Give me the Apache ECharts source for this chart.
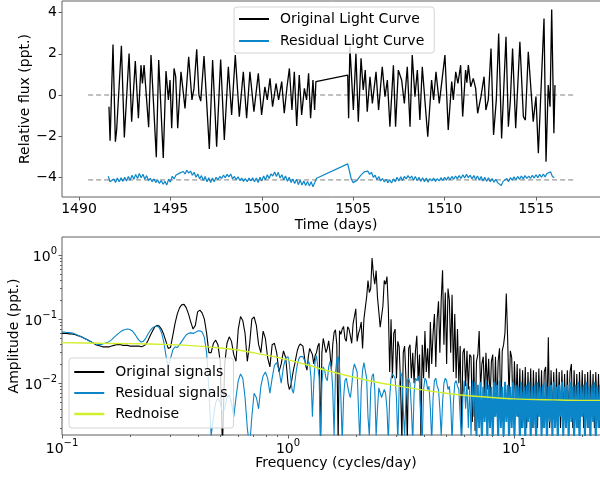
<!DOCTYPE html>
<html>
<head>
<meta charset="utf-8">
<script src="https://cdn.jsdelivr.net/npm/echarts@6/dist/echarts.min.js"></script>
<style>
html, body { margin: 0; padding: 0; background: #fff; }
#main { width: 600px; height: 479px; }
</style>
</head>
<body>
<div id="main"></div>
<script>
var myChart = echarts.init(document.getElementById('main'));

// ---- top panel: light curve (days, ppt) ----
var lcDays = [
  1491.64, 1491.70, 1491.86, 1491.99, 1492.06, 1492.32, 1492.48, 1492.74, 1492.88, 1493.08,
  1493.25, 1493.39, 1493.47, 1493.56, 1493.81, 1493.94, 1494.23, 1494.36, 1494.61, 1494.76,
  1494.89, 1494.98, 1495.07, 1495.20, 1495.29, 1495.40, 1495.58, 1495.80, 1496.00, 1496.18,
  1496.29, 1496.44, 1496.56, 1496.66, 1496.84, 1497.13, 1497.31, 1497.53, 1497.75, 1497.95,
  1498.17, 1498.35, 1498.55, 1498.77, 1498.99, 1499.17, 1499.35, 1499.57, 1499.81, 1499.99,
  1500.17, 1500.30, 1500.45, 1500.59, 1500.78, 1500.92, 1501.09, 1501.23, 1501.38, 1501.51,
  1501.65, 1501.78, 1501.91, 1502.05, 1502.18, 1502.33, 1502.45, 1502.56, 1502.67, 1502.80,
  1502.89, 1502.96,
  1504.70, 1504.75, 1504.82, 1505.01, 1505.15, 1505.28, 1505.43, 1505.55, 1505.66, 1505.77,
  1505.92, 1506.05, 1506.25, 1506.39, 1506.59, 1506.74, 1506.87, 1507.01, 1507.20, 1507.32,
  1507.47, 1507.65, 1507.80, 1507.96, 1508.11, 1508.23, 1508.38, 1508.51, 1508.65, 1508.78,
  1509.08, 1509.29, 1509.40, 1509.53, 1509.71, 1510.02, 1510.20, 1510.39, 1510.48, 1510.61,
  1510.73, 1510.88, 1510.99, 1511.15, 1511.22, 1511.30, 1511.43, 1511.57, 1511.70, 1511.81,
  1511.99, 1512.16, 1512.26, 1512.39, 1512.54, 1512.68, 1512.83, 1512.96, 1513.12, 1513.36,
  1513.49, 1513.60, 1513.72, 1513.89, 1514.12, 1514.31, 1514.42, 1514.58, 1514.85, 1515.00,
  1515.13, 1515.44, 1515.55, 1515.67, 1515.77, 1515.86, 1515.98, 1516.04
];
var lcFlux = [
  -0.57, -2.22, 2.46, -2.27, -1.70, 2.39, -2.06, 2.02, -1.30, 1.65,
  -1.13, 1.45, 0.56, 1.45, -1.57, 1.94, -3.03, 1.70, -3.06, 1.16,
  -0.24, 0.73, -1.62, 1.29, 0.89, -1.62, 1.13, -0.65, 1.86, -0.24,
  0.32, 2.22, 0.00, -0.30, 1.89, -2.62, 1.70, -2.51, 1.73, -2.19,
  1.37, -0.97, 1.94, -1.05, 1.13, -1.13, 1.13, -0.81, 1.05, -0.97,
  0.40, -0.24, 0.81, -0.57, 0.56, -0.24, 0.65, -0.89, 0.40, 1.29,
  -0.73, 1.13, -1.51, 0.97, -0.97, 0.32, -0.24, 1.05, -1.13, 0.73,
  -0.73, 0.65,
  0.97, -1.13, 2.34, -0.73, 2.02, -1.30, 1.78, 0.24, 1.21, -0.81,
  0.89, -0.41, 1.13, -0.73, 1.37, -0.08, 0.73, -1.54, 1.45, -1.54,
  1.21, 0.73, -0.41, 1.37, -1.54, 1.94, -0.08, 1.21, -1.22, 1.37,
  -2.03, 0.73, -0.24, 1.13, -0.41, 1.94, -1.70, 0.65, -0.24, 1.13,
  0.56, 1.45, -1.05, 1.21, 0.60, 1.45, 0.40, 0.81, 0.32, -0.89,
  -0.08, 0.89, -0.73, -0.24, 2.26, -1.94, -0.24, 2.99, -2.11, 2.83,
  -1.54, -0.24, 2.26, -1.62, 2.59, -1.05, -1.22, 2.10, -1.30, -0.08,
  -2.83, 3.72, -3.24, 0.48, -0.57, 4.16, -1.86, 0.48
];

// residual light curve, sampled every 0.1 d in two sectors
var resStep = 0.1;
var resStart1 = 1491.6;
var resFlux1 = [
  -3.95, -4.22, -4.30, -4.08, -4.26, -4.04, -4.22, -4.02, -4.20, -4.00,
  -4.18, -3.96, -4.14, -3.90, -4.10, -3.86, -4.06, -3.82, -4.02, -3.85,
  -4.10, -3.92, -4.16, -4.05, -4.22, -4.08, -4.26, -4.12, -4.30, -4.16,
  -4.34, -4.20, -4.38, -4.10, -4.24, -3.95, -4.08, -3.90, -3.98, -3.80,
  -3.88, -3.72, -3.84, -3.66, -3.80, -3.70, -3.90, -3.76, -4.00, -3.84,
  -4.08, -3.92, -4.16, -3.96, -4.22, -4.02, -4.26, -4.04, -4.22, -4.00,
  -4.12, -3.96, -4.06, -3.90, -4.02, -3.86, -3.98, -3.84, -4.08, -3.96,
  -4.12, -3.98, -4.16, -4.04, -4.20, -4.06, -4.22, -4.04, -4.18, -4.02,
  -4.22, -4.04, -4.26, -4.00, -4.18, -3.94, -4.12, -3.88, -4.06, -3.84,
  -3.94, -3.74, -3.96, -3.76, -4.04, -3.88, -4.12, -3.94, -4.20, -4.00,
  -4.26, -4.08, -4.30, -4.10, -4.36, -4.14, -4.38, -4.18, -4.40, -4.20,
  -4.42, -4.22, -4.46, -4.26, -4.05
];
var resStart2 = 1504.7;
var resFlux2 = [
  -3.35, -3.72, -4.10, -4.26, -4.34, -4.16, -4.20, -3.92, -3.96, -3.74,
  -3.80, -3.70, -3.86, -3.76, -4.00, -3.90, -4.12, -3.96, -4.18, -4.06,
  -4.22, -4.10, -4.26, -4.12, -4.28, -4.08, -4.22, -4.00, -4.18, -3.98,
  -4.16, -3.96, -4.08, -3.92, -4.06, -3.94, -4.14, -3.96, -4.16, -4.00,
  -4.20, -4.02, -4.22, -4.04, -4.24, -4.06, -4.18, -4.04, -4.20, -4.06,
  -4.18, -4.02, -4.16, -4.00, -4.14, -3.98, -4.12, -3.96, -4.10, -3.94,
  -4.08, -3.92, -4.06, -3.88, -4.04, -3.86, -4.02, -3.90, -4.08, -3.92,
  -4.10, -3.94, -4.14, -3.96, -4.18, -4.00, -4.20, -4.02, -4.22, -4.06,
  -4.24, -4.10, -4.26, -4.18, -4.40, -4.20, -4.26, -4.06, -4.22, -4.02,
  -4.14, -3.98, -4.12, -3.96, -4.10, -3.94, -4.08, -3.92, -4.06, -3.94,
  -4.06, -3.90, -4.04, -3.88, -4.02, -3.86, -4.00, -3.84, -3.98, -3.82,
  -3.90, -3.74, -3.96, -4.02
];

// dashed reference levels and their time span
var refLevels = [0, -4.13];
var refSpan = [1490.5, 1517.2];

// ---- bottom panel: amplitude spectra (cycles/day, ppt) ----
// low part: log10(f) from -1 to 0, step 0.01
var lowLogStart = -1, lowLogStep = 0.01;
var origLow = [
  0.060, 0.060, 0.060, 0.059, 0.059, 0.058, 0.057, 0.055, 0.054, 0.052,
  0.050, 0.048, 0.046, 0.044, 0.042, 0.040, 0.039, 0.038, 0.037, 0.037,
  0.037, 0.037, 0.038, 0.039, 0.040, 0.040, 0.040, 0.039, 0.039, 0.039,
  0.038, 0.038, 0.038, 0.038, 0.038, 0.037, 0.038, 0.040, 0.046, 0.055,
  0.065, 0.075, 0.080, 0.078, 0.070, 0.058, 0.045, 0.035, 0.036, 0.055,
  0.085, 0.120, 0.150, 0.168, 0.170, 0.150, 0.120, 0.090, 0.070, 0.080,
  0.130, 0.138, 0.125, 0.100, 0.060, 0.030, 0.030, 0.042, 0.047, 0.040,
  0.022, 0.001, 0.020, 0.042, 0.053, 0.045, 0.028, 0.022, 0.070, 0.110,
  0.095, 0.060, 0.022, 0.040, 0.100, 0.108, 0.080, 0.040, 0.030, 0.065,
  0.050, 0.025, 0.018, 0.040, 0.042, 0.030, 0.015, 0.020, 0.032, 0.025,
  0.010
];
var resLow = [
  0.063, 0.063, 0.062, 0.062, 0.061, 0.060, 0.058, 0.056, 0.054, 0.052,
  0.050, 0.048, 0.046, 0.044, 0.042, 0.041, 0.040, 0.040, 0.041, 0.042,
  0.043, 0.045, 0.048, 0.052, 0.056, 0.060, 0.064, 0.067, 0.069, 0.070,
  0.069, 0.066, 0.060, 0.053, 0.047, 0.044, 0.045, 0.050, 0.058, 0.066,
  0.073, 0.077, 0.078, 0.074, 0.062, 0.045, 0.027, 0.018, 0.024, 0.033,
  0.037, 0.036, 0.040, 0.045, 0.051, 0.057, 0.060, 0.061, 0.060, 0.062,
  0.065, 0.066, 0.063, 0.052, 0.030, 0.008, 0.0015, 0.003, 0.005, 0.0058,
  0.005, 0.0035, 0.004, 0.006, 0.0065, 0.005, 0.003, 0.006, 0.011, 0.014,
  0.012, 0.006, 0.002, 0.001, 0.003, 0.007, 0.006, 0.004, 0.009, 0.013,
  0.015, 0.012, 0.007, 0.012, 0.019, 0.021, 0.016, 0.010, 0.018, 0.025,
  0.026
];
// high part: log10(f) from 0 upward, step 0.006
var highLogStart = 0, highLogStep = 0.006;
var origHigh = [
  0.009, 0.008, 0.009, 0.012, 0.016, 0.020, 0.026, 0.033, 0.038, 0.041,
  0.042, 0.038, 0.027, 0.019, 0.016, 0.026, 0.035, 0.036, 0.028, 0.020,
  0.027, 0.030, 0.038, 0.042, 0.0012, 0.030, 0.050, 0.048, 0.030, 0.035,
  0.046, 0.030, 0.016, 0.040, 0.062, 0.068, 0.040, 0.0012, 0.066, 0.058,
  0.070, 0.077, 0.050, 0.045, 0.076, 0.070, 0.055, 0.042, 0.085, 0.110,
  0.145, 0.045, 0.060, 0.070, 0.090, 0.035, 0.100, 0.150, 0.220, 0.400,
  0.260, 0.300, 0.900, 0.500, 0.350, 0.570, 0.220, 0.130, 0.075, 0.110,
  0.160, 0.400, 0.350, 0.460, 0.150, 0.015, 0.100, 0.012, 0.060, 0.070,
  0.012, 0.045, 0.037, 0.010, 0.0012, 0.030, 0.038, 0.012, 0.0012, 0.035,
  0.040, 0.012, 0.030, 0.010, 0.032, 0.055, 0.011, 0.028, 0.0015, 0.040,
  0.012, 0.065, 0.015, 0.035, 0.012, 0.090, 0.020, 0.060, 0.120, 0.018,
  0.100, 0.190, 0.030, 0.200, 0.580, 0.040, 0.260, 0.020, 0.300, 0.200,
  0.030, 0.240, 0.015, 0.120, 0.012, 0.070, 0.010, 0.038, 0.0015, 0.030,
  0.035, 0.009, 0.032, 0.008, 0.028, 0.026, 0.0025, 0.028, 0.0018, 0.022,
  0.028, 0.065, 0.008, 0.020, 0.026, 0.006, 0.030, 0.008, 0.024, 0.005,
  0.022, 0.028, 0.003, 0.026, 0.004, 0.022, 0.035, 0.003, 0.032, 0.040,
  0.060, 0.250, 0.050, 0.006, 0.032, 0.025, 0.003, 0.022, 0.004, 0.020,
  0.003, 0.017, 0.002, 0.016, 0.003, 0.018, 0.002, 0.015, 0.003, 0.017,
  0.002, 0.016, 0.003, 0.015, 0.002, 0.017, 0.003, 0.016, 0.002, 0.015,
  0.018, 0.003, 0.052, 0.002, 0.016, 0.003, 0.015, 0.002, 0.017, 0.003,
  0.015, 0.002, 0.016, 0.003, 0.014, 0.002, 0.016, 0.003, 0.015, 0.020,
  0.002, 0.016, 0.003, 0.014, 0.002, 0.015, 0.003, 0.016, 0.002, 0.014,
  0.003, 0.015, 0.002, 0.016, 0.003, 0.014, 0.002, 0.015, 0.003, 0.014,
  0.002, 0.015, 0.003, 0.014, 0.002, 0.015, 0.003
];
var resHigh = [
  0.026, 0.020, 0.012, 0.008, 0.007, 0.010, 0.015, 0.020, 0.024, 0.026,
  0.025, 0.026, 0.025, 0.021, 0.018, 0.022, 0.020, 0.012, 0.003, 0.010,
  0.022, 0.027, 0.026, 0.012, 0.0012, 0.010, 0.018, 0.016, 0.012, 0.011,
  0.018, 0.022, 0.018, 0.008, 0.0015, 0.014, 0.024, 0.026, 0.018, 0.006,
  0.0012, 0.006, 0.011, 0.012, 0.009, 0.007, 0.006, 0.009, 0.016, 0.020,
  0.021, 0.015, 0.004, 0.0012, 0.008, 0.016, 0.021, 0.021, 0.012, 0.003,
  0.0015, 0.008, 0.013, 0.014, 0.008, 0.0015, 0.004, 0.0085, 0.008, 0.006,
  0.006, 0.008, 0.007, 0.004, 0.0012, 0.006, 0.012, 0.014, 0.013, 0.012,
  0.006, 0.0012, 0.009, 0.015, 0.013, 0.004, 0.0015, 0.006, 0.011, 0.012,
  0.010, 0.004, 0.0012, 0.007, 0.012, 0.011, 0.013, 0.010, 0.003, 0.0012,
  0.008, 0.012, 0.011, 0.008, 0.009, 0.004, 0.0012, 0.006, 0.011, 0.012,
  0.009, 0.008, 0.004, 0.0015, 0.005, 0.010, 0.012, 0.011, 0.008, 0.009,
  0.005, 0.0012, 0.005, 0.010, 0.011, 0.009, 0.008, 0.003, 0.0012, 0.006,
  0.011, 0.004, 0.010, 0.002, 0.009, 0.0015, 0.011, 0.003, 0.0105, 0.0014,
  0.0095, 0.002, 0.0105, 0.0012, 0.0088, 0.0025, 0.011, 0.0013, 0.0095, 0.002,
  0.0088, 0.0012, 0.0105, 0.003, 0.0095, 0.0014, 0.011, 0.002, 0.0088, 0.0012,
  0.0105, 0.0025, 0.0095, 0.0013, 0.0088, 0.002, 0.0105, 0.0012, 0.0095, 0.003,
  0.0088, 0.0013, 0.0105, 0.002, 0.0088, 0.0012, 0.0095, 0.0025, 0.0105, 0.0013,
  0.0088, 0.002, 0.0095, 0.0012, 0.0105, 0.003, 0.0088, 0.0014, 0.0095, 0.002,
  0.0105, 0.0012, 0.0088, 0.0025, 0.0095, 0.0013, 0.0105, 0.002, 0.0088, 0.0012,
  0.0095, 0.003, 0.0105, 0.0014, 0.0088, 0.002, 0.0095, 0.0012, 0.0105, 0.0025,
  0.0088, 0.0013, 0.0095, 0.002, 0.0105, 0.0012, 0.0088, 0.003, 0.0095, 0.0014,
  0.0105, 0.002, 0.0088, 0.0012, 0.0095, 0.0025, 0.0105, 0.0013, 0.0088, 0.002,
  0.0095, 0.0012, 0.0105, 0.003, 0.0088, 0.0014, 0.0095
];
// residual spectrum turns into a dense forest from this high-grid index on
var resDenseFrom = 138;
// red-noise fit
var redFreq = [0.1, 0.15, 0.2, 0.3, 0.4, 0.5, 0.6, 0.7, 0.8, 1.0, 1.2, 1.5, 2.0, 2.5, 3.0, 4.0, 5.0, 6.0, 8.0, 10, 15, 20, 27];
var redAmp = [0.043, 0.042, 0.0415, 0.040, 0.038, 0.0355, 0.033, 0.030, 0.0275, 0.0232, 0.0196, 0.0157, 0.0122, 0.0103, 0.0092, 0.0078, 0.0070, 0.0065, 0.0060, 0.0057, 0.0055, 0.0054, 0.0054];

// tick positions
var timeTicks = [1490, 1495, 1500, 1505, 1510, 1515];
var fluxTicks = [-4, -2, 0, 2, 4];
var freqTicks = [0.1, 1, 10];
var ampTicks = [0.01, 0.1, 1];
var freqMinor = [0.2, 0.3, 0.4, 0.5, 0.6, 0.7, 0.8, 0.9, 2, 3, 4, 5, 6, 7, 8, 9, 20];
var ampMinor = [0.002, 0.003, 0.004, 0.005, 0.006, 0.007, 0.008, 0.009,
                0.02, 0.03, 0.04, 0.05, 0.06, 0.07, 0.08, 0.09,
                0.2, 0.3, 0.4, 0.5, 0.6, 0.7, 0.8, 0.9];

var FONT = "'DejaVu Sans', sans-serif";
var BLUE = '#0a86c9';
var YELLOW = '#d2ee2c';
var FRAME = '#606060';

function pairs(xs, ys) {
    var out = [];
    for (var i = 0; i < xs.length; i++) out.push([xs[i], ys[i]]);
    return out;
}
function cadence(start, step, vals) {
    var out = [];
    for (var i = 0; i < vals.length; i++) out.push([+(start + i * step).toFixed(3), vals[i]]);
    return out;
}
function logGrid(start, step, vals) {
    var out = [];
    for (var i = 0; i < vals.length; i++) out.push([Math.pow(10, start + i * step), vals[i]]);
    return out;
}

var resData = cadence(resStart1, resStep, resFlux1).concat(cadence(resStart2, resStep, resFlux2));
var origSpec = logGrid(lowLogStart, lowLogStep, origLow).concat(logGrid(highLogStart, highLogStep, origHigh).slice(1));
var resHighPts = logGrid(highLogStart, highLogStep, resHigh);
var resSpecA = logGrid(lowLogStart, lowLogStep, resLow).concat(resHighPts.slice(1, resDenseFrom + 1));
var resSpecB = resHighPts.slice(resDenseFrom);

function minusFmt(v) { return v < 0 ? '\u2212' + (-v) : String(v); }
function plainFmt(v) { return String(v); }
function powFmt(v) {
    var e = Math.round(Math.log(v) / Math.LN10);
    return '{b|10}{sup|' + (e < 0 ? '\u2212' + (-e) : e) + '}';
}
var powRich = {
    b: { fontSize: 14, fontFamily: FONT, color: '#000', lineHeight: 18, verticalAlign: 'bottom' },
    sup: { fontSize: 10, fontFamily: FONT, color: '#000', lineHeight: 8, verticalAlign: 'top' }
};
var nameStyle = { fontSize: 14, fontFamily: FONT, color: '#000' };
// axis lines are hidden (the grid frame draws them) and pinned to the frame edge
var noLine = { show: false, onZero: false };

var legendBase = {
    orient: 'vertical',
    itemWidth: 30,
    itemHeight: 14,
    backgroundColor: 'rgba(255,255,255,0.8)',
    borderColor: '#d4d4d4',
    borderWidth: 1,
    borderRadius: 3,
    selectedMode: false,
    itemStyle: { color: 'rgba(0,0,0,0)', borderColor: 'rgba(0,0,0,0)', borderWidth: 0, opacity: 0 },
    textStyle: { fontSize: 14, fontFamily: FONT, color: '#000', padding: [0, 0, 0, 6] }
};

option = {
    backgroundColor: '#fff',
    animation: false,
    grid: [
        { left: 62, right: -10, top: 1, height: 196, show: true, borderColor: FRAME, borderWidth: 1, outerBoundsMode: 'none' },
        { left: 62, right: -10, top: 237, height: 198, show: true, borderColor: FRAME, borderWidth: 1, outerBoundsMode: 'none' }
    ],
    legend: [
        echarts.util.merge({
            data: ['Original Light Curve', 'Residual Light Curve'],
            left: 234, top: 7, itemGap: 8,
            padding: [5, 10, 5, 4]
        }, legendBase, false),
        echarts.util.merge({
            data: ['Original signals', 'Residual signals', { name: 'Rednoise', lineStyle: { width: 2.5 } }],
            left: 69, top: 358, itemGap: 7,
            padding: [7, 6, 7, 4]
        }, legendBase, false)
    ],
    xAxis: [
        {
            type: 'value', gridIndex: 0, min: 1489.07, max: 1519.05, position: 'bottom',
            name: 'Time (days)', nameLocation: 'middle', nameGap: 21, nameMoveOverlap: false, nameTextStyle: nameStyle,
            axisLine: noLine,
            axisTick: { customValues: timeTicks, length: 3.5, lineStyle: { color: FRAME } },
            axisLabel: { customValues: timeTicks, margin: 5, formatter: plainFmt, fontSize: 14, fontFamily: FONT, color: '#000' },
            splitLine: { show: false }
        },
        {
            type: 'log', logBase: 10, gridIndex: 1, min: 0.1, max: 26.6, position: 'bottom',
            name: 'Frequency (cycles/day)', nameLocation: 'middle', nameGap: 21, nameMoveOverlap: false, nameTextStyle: nameStyle,
            axisLine: noLine,
            axisTick: { customValues: freqTicks, length: 3.5, lineStyle: { color: FRAME } },
            axisLabel: { customValues: freqTicks, margin: 3, formatter: powFmt, rich: powRich },
            splitLine: { show: false }
        },
        {
            type: 'log', logBase: 10, gridIndex: 1, min: 0.1, max: 26.6, position: 'bottom',
            axisLine: noLine,
            axisTick: { customValues: freqMinor, length: 2, lineStyle: { color: FRAME } },
            axisLabel: { show: false },
            splitLine: { show: false }
        }
    ],
    yAxis: [
        {
            type: 'value', gridIndex: 0, min: -4.96, max: 4.57, position: 'left',
            name: 'Relative flux (ppt.)', nameLocation: 'middle', nameGap: 30, nameMoveOverlap: false, nameTextStyle: nameStyle,
            axisLine: noLine,
            axisTick: { customValues: fluxTicks, length: 3.5, lineStyle: { color: FRAME } },
            axisLabel: { customValues: fluxTicks, margin: 5, formatter: minusFmt, fontSize: 14, fontFamily: FONT, color: '#000' },
            splitLine: { show: false }
        },
        {
            type: 'log', logBase: 10, gridIndex: 1, min: 0.00156, max: 1.91, position: 'left',
            name: 'Amplitude (ppt.)', nameLocation: 'middle', nameGap: 41, nameMoveOverlap: false, nameTextStyle: nameStyle,
            axisLine: noLine,
            axisTick: { customValues: ampTicks, length: 3.5, lineStyle: { color: FRAME } },
            axisLabel: { customValues: ampTicks, margin: 5, formatter: powFmt, rich: powRich },
            splitLine: { show: false }
        },
        {
            type: 'log', logBase: 10, gridIndex: 1, min: 0.00156, max: 1.91, position: 'left',
            axisLine: noLine,
            axisTick: { customValues: ampMinor, length: 2, lineStyle: { color: FRAME } },
            axisLabel: { show: false },
            splitLine: { show: false }
        }
    ],
    series: [
        {
            // horizontal dashed guides at both reference levels, drawn as one broken polyline
            name: 'guides', type: 'line', xAxisIndex: 0, yAxisIndex: 0,
            symbol: 'none', silent: true, connectNulls: false, z: 1,
            data: [[refSpan[0], refLevels[0]], [refSpan[1], refLevels[0]], '-',
                   [refSpan[0], refLevels[1]], [refSpan[1], refLevels[1]]],
            lineStyle: { color: '#808080', width: 1, type: [5, 3] }
        },
        {
            name: 'Original Light Curve', type: 'line', xAxisIndex: 0, yAxisIndex: 0, symbol: 'none',
            data: pairs(lcDays, lcFlux),
            lineStyle: { color: '#000', width: 1.3 }, itemStyle: { color: '#000' }, z: 2
        },
        {
            name: 'Residual Light Curve', type: 'line', xAxisIndex: 0, yAxisIndex: 0, symbol: 'none',
            data: resData,
            lineStyle: { color: BLUE, width: 1.2 }, itemStyle: { color: BLUE }, z: 3
        },
        {
            name: 'Original signals', type: 'line', xAxisIndex: 1, yAxisIndex: 1, symbol: 'none',
            data: origSpec,
            lineStyle: { color: '#000', width: 1.1 }, itemStyle: { color: '#000' }, z: 2
        },
        {
            name: 'Residual signals', type: 'line', xAxisIndex: 1, yAxisIndex: 1, symbol: 'none',
            data: resSpecA,
            lineStyle: { color: BLUE, width: 1.1 }, itemStyle: { color: BLUE }, z: 3
        },
        {
            name: 'Residual signals', type: 'line', xAxisIndex: 1, yAxisIndex: 1, symbol: 'none',
            data: resSpecB,
            lineStyle: { color: BLUE, width: 1.9 }, itemStyle: { color: BLUE }, z: 3
        },
        {
            name: 'Rednoise', type: 'line', xAxisIndex: 1, yAxisIndex: 1, symbol: 'none', smooth: 0.3,
            data: pairs(redFreq, redAmp),
            lineStyle: { color: YELLOW, width: 1.4 }, itemStyle: { color: YELLOW }, z: 4
        }
    ]
};

myChart.setOption(option);
</script>
</body>
</html>
